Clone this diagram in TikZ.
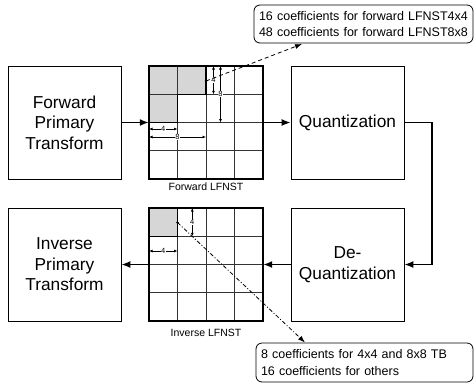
\documentclass[tikz,border=0pt]{standalone}
\usepackage{fontspec}
\setmainfont{Liberation Sans}
\usetikzlibrary{arrows.meta}
\begin{document}
\begin{tikzpicture}[x=1pt,y=-1pt,
  box/.style={draw, line width=0.8pt, minimum width=113pt, minimum height=113pt, inner sep=0pt, align=center, font=\fontsize{17.3}{20.5}\selectfont},
  gridnode/.style={minimum width=114pt, minimum height=113pt, inner sep=0pt},
  arr/.style={line width=1.5pt, -{Latex[length=9pt,width=7pt]}},
  callout/.style={draw, rounded corners=6pt, line width=0.8pt, align=left, inner sep=5pt, font=\fontsize{12.5}{16.5}\selectfont},
  dim/.style={line width=0.7pt, {Latex[length=3.5pt,width=3pt]}-{Latex[length=3.5pt,width=3pt]}},
  dimlab/.style={fill=white, inner sep=0.4pt, font=\fontsize{7.5}{7.5}\selectfont},
  thinline/.style={line width=0.8pt, black!80},
  thickline/.style={line width=1.4pt},
  shade/.style={fill=black!16},
  leader/.style={line width=0.8pt, -{Latex[length=7pt,width=5pt]}},
  caption/.style={font=\fontsize{10.5}{12}\selectfont}
]
\useasboundingbox (0,0) rectangle (474,384);

% main boxes
\node[box] (fpt) at (64.5,122.5) {Forward\\Primary\\Transform};
\node[box] (ipt) at (64.5,264.5) {Inverse\\Primary\\Transform};
\node[box] (quant) at (347.5,122.5) {Quantization};
\node[box] (dequant) at (347.5,264.5) {De-\\Quantization};

% forward grid
\node[gridnode] (fg) at (206,122.5) {};
\fill[shade] (149,66) rectangle (206,94.25);
\fill[shade] (149,94.25) rectangle (177.5,122.5);
\foreach \x in {177.5,206,234.5} \draw[thinline] (\x,66) -- (\x,179);
\foreach \y in {94.25,122.5,150.75} \draw[thinline] (149,\y) -- (263,\y);
\draw[thickline] (206,66) -- (206,94.25) -- (177.5,94.25) -- (177.5,122.5) -- (149,122.5);
\draw[thickline] (149,66) rectangle (263,179);
\node[caption] (flab) at (206,187) {Forward LFNST};

% forward dimensions
\draw[dim] (149,129) -- node[dimlab] {4} (177.5,129);
\draw[dim] (149,137) -- node[dimlab] {8} (206,137);
\draw[dim] (213.5,66) -- node[dimlab] {4} (213.5,94.25);
\draw[dim] (220.5,66) -- node[dimlab] {8} (220.5,122.5);

% inverse grid
\node[gridnode] (ig) at (206,264.5) {};
\fill[shade] (149,208) rectangle (177.5,236.25);
\foreach \x in {177.5,206,234.5} \draw[thinline] (\x,208) -- (\x,321);
\foreach \y in {236.25,264.5,292.75} \draw[thinline] (149,\y) -- (263,\y);
\draw[thickline] (177.5,208) -- (177.5,236.25) -- (149,236.25);
\draw[thickline] (149,208) rectangle (263,321);
\node[caption] (ilab) at (206,333) {Inverse LFNST};

% inverse dimensions
\draw[dim] (149,251) -- node[dimlab] {4} (177.5,251);
\draw[dim] (192.3,208) -- node[dimlab] {4} (192.3,236.25);

% main flow
\draw[arr] (fpt) -- (fg);
\draw[arr] (fg) -- (quant);
\coordinate (bend) at (432,122.5);
\draw[arr] (quant.east) -- (bend) |- (dequant.east);
\draw[arr] (dequant) -- (ig);
\draw[arr] (ig) -- (ipt);

% callouts
\node[callout, text width=209pt, minimum height=38pt] (fc) at (363.5,24)
  {16 coefficients for forward LFNST4x4\\48 coefficients for forward LFNST8x8};
\node[callout, text width=207pt, minimum height=39pt] (ic) at (364.5,362.5)
  {8 coefficients for 4x4 and 8x8 TB\\16 coefficients for others};

% leaders
\coordinate (fdot) at (206,81);
\coordinate (ftip) at (302,44);
\fill (fdot) circle (1.4pt);
\draw[leader, dash pattern=on 4pt off 3pt] (fdot) -- (ftip);
\coordinate (idot) at (177.5,222.5);
\coordinate (itip) at (305,342.5);
\fill (idot) circle (1.4pt);
\draw[leader, dash pattern=on 4pt off 2pt on 1pt off 2pt] (idot) -- (itip);
\end{tikzpicture}
\end{document}
